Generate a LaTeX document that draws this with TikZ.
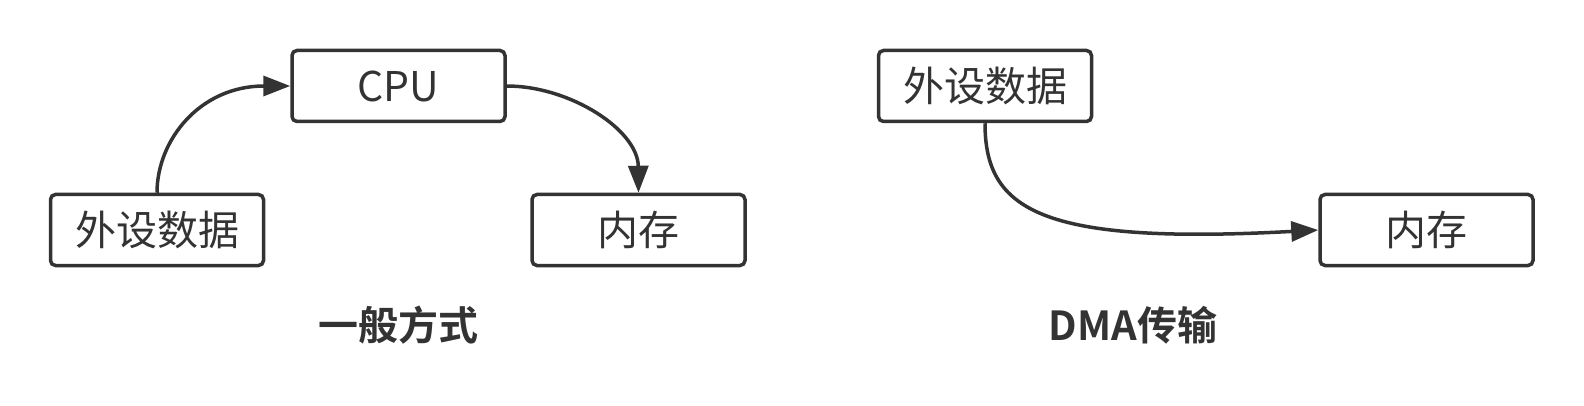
\documentclass[tikz,border=0pt]{standalone}
\usepackage{fontspec}
\setmainfont{Noto Sans CJK SC}[BoldFont={Noto Sans CJK SC Bold}]
\usetikzlibrary{arrows.meta}
\definecolor{LineGray}{RGB}{51,51,51}

\begin{document}
\begin{tikzpicture}[x=1pt, y=-1pt]
      \tikzstyle{box}=[draw=LineGray, line width=3.5pt, rounded corners=5pt, minimum width=213pt, minimum height=71pt, inner sep=0pt, text=LineGray, font=\fontsize{41}{49}\selectfont];
      \tikzstyle{caption}=[text=LineGray, font=\fontsize{40}{48}\selectfont\bfseries];
      \tikzstyle{flow}=[draw=LineGray, line width=3.5pt, -{Triangle[length=27pt, width=20pt]}];

      \useasboundingbox (0, 0) rectangle (1584, 406);

      % general way: device -> CPU -> memory
      \node[box] (devL) at (157, 230) {外设数据};
      \node[box] (cpu) at (398.5, 86) {CPU};
      \node[box] (memL) at (638.5, 230) {内存};
      \node[caption] (capL) at (398, 325) {一般方式};

      \draw[flow] (devL.north) .. controls (157, 140) and (200, 86) .. (cpu.west);
      \draw[flow] (cpu.east) .. controls (570, 86) and (638, 130) .. (memL.north);

      % DMA: device -> memory
      \node[box] (devR) at (985, 86) {外设数据};
      \node[box] (memR) at (1426.5, 230) {内存};
      \node[caption] (capR) at (1133, 325) {DMA传输};

      \draw[flow] (devR.south) .. controls (985, 210) and (1040, 245) .. (memR.west);
    \end{tikzpicture}
\end{document}
